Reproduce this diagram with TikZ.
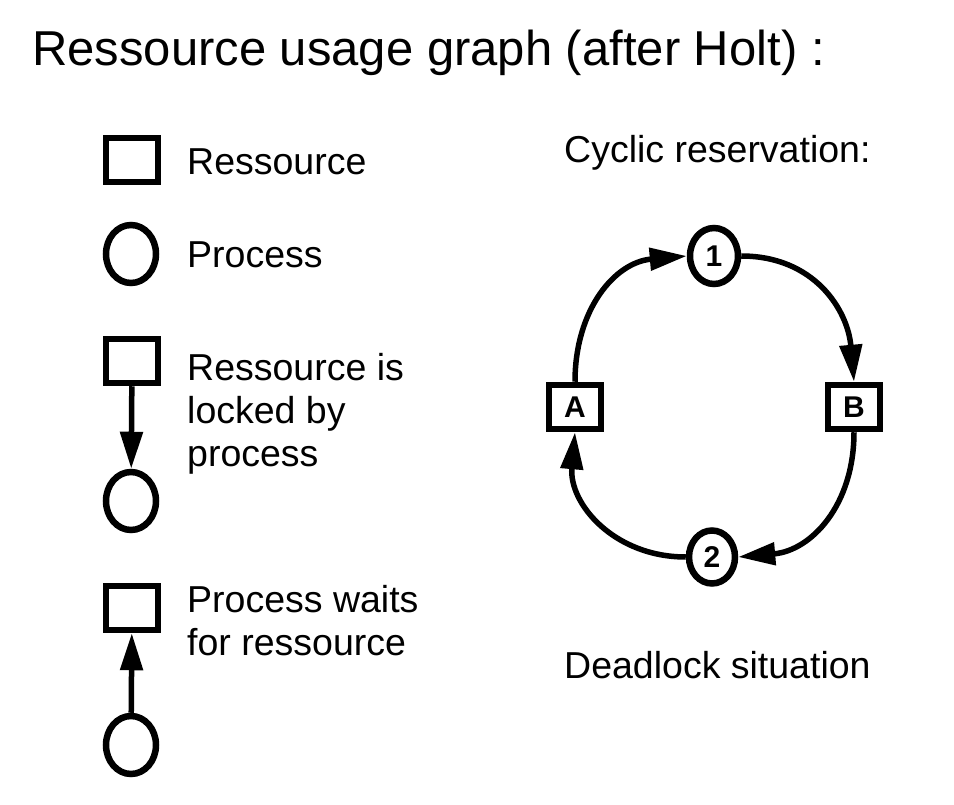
\documentclass[tikz,border=0pt]{standalone}
\usepackage{fontspec}
\setmainfont{Liberation Sans}
\usetikzlibrary{arrows.meta,shapes.geometric}

\begin{document}
\begin{tikzpicture}[x=1pt, y=-1pt,
        res/.style = {shape=rectangle, draw, line width=6.5pt,
                      minimum width=52pt, minimum height=44pt, inner sep=0pt,
                      font=\fontsize{30}{30}\selectfont\bfseries},
        proc/.style = {shape=ellipse, draw, line width=6.5pt,
                       minimum width=50pt, minimum height=58pt, inner sep=0pt,
                       font=\fontsize{30}{30}\selectfont\bfseries},
        txt/.style = {anchor=base west, inner sep=0pt, align=left,
                      font=\fontsize{37.5}{43}\selectfont},
        arr/.style = {line width=5.5pt, -{Triangle[length=37pt,width=22pt]}}]
    \useasboundingbox (0,0) rectangle (954,805);
    \node[txt, font=\fontsize{49}{59}\selectfont] (title) at (32,66)
        {Ressource usage graph (after Holt) :};
    % legend
    \node[res]  (r1) at (132,160) {};
    \node[txt]  (t1) at (187,175) {Ressource};
    \node[proc] (p1) at (131,254) {};
    \node[txt]  (t2) at (187,268) {Process};
    \node[res]  (r2) at (132,361) {};
    \node[proc] (p2) at (131,501) {};
    \draw[arr] (r2) -- (p2);
    \node[txt]  (t3) at (187,466) {Ressource is\\locked by\\process};
    \node[res]  (r3) at (132,608) {};
    \node[proc] (p3) at (131,745) {};
    \draw[arr] (p3) -- (r3);
    \node[txt]  (t4) at (187,655) {Process waits\\for ressource};
    % cycle
    \node[txt]  (cyc) at (564,163) {Cyclic reservation:};
    \node[res]  (A) at (575,407) {A};
    \node[res]  (B) at (854,407) {B};
    \node[proc, minimum width=48pt, minimum height=56pt] (one) at (714,256) {1};
    \node[proc, minimum width=46pt, minimum height=53pt] (two) at (712,557) {2};
    \draw[arr] (A.north) to[out=90, in=185, looseness=1.1] (one.west);
    \draw[arr] (one.east) to[out=0, in=95, looseness=1.1] (B.north);
    \draw[arr] (B.south) to[out=-90, in=5, looseness=1.1] (two.east);
    \draw[arr] (two.west) to[out=180, in=-95, looseness=1.1] (A.south);
    \node[txt]  (dead) at (564,678) {Deadlock situation};
\end{tikzpicture}
\end{document}
